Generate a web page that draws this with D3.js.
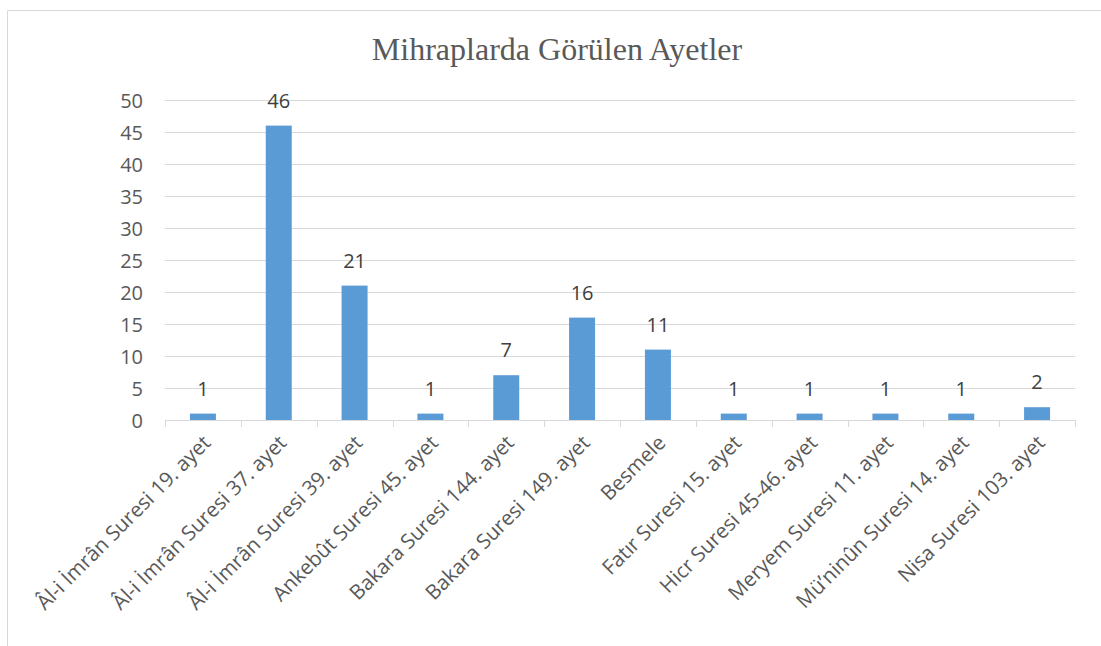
<!DOCTYPE html>
<html>
<head>
<meta charset="utf-8">
<script src="https://cdn.jsdelivr.net/npm/d3@7"></script>
<style>
  html, body { margin: 0; padding: 0; background: #fff; }
  svg { display: block; }
</style>
</head>
<body>
<svg id="chart" width="1101" height="646"></svg>
<script>
// Verse counts found on mihrabs
const categories = [
  "Âl-i İmrân Suresi 19. ayet",
  "Âl-i İmrân Suresi 37. ayet",
  "Âl-i İmrân Suresi 39. ayet",
  "Ankebût Suresi 45. ayet",
  "Bakara Suresi 144. ayet",
  "Bakara Suresi 149. ayet",
  "Besmele",
  "Fatır Suresi 15. ayet",
  "Hicr Suresi 45-46. ayet",
  "Meryem Suresi 11. ayet",
  "Mü’ninûn Suresi 14. ayet",
  "Nisa Suresi 103. ayet"
];
const counts = [1, 46, 21, 1, 7, 16, 11, 1, 1, 1, 1, 2];
const yTicks = [0, 5, 10, 15, 20, 25, 30, 35, 40, 45, 50];
const title = "Mihraplarda Görülen Ayetler";

const sans = "'Open Sans', 'Noto Sans', sans-serif";
const svg = d3.select("#chart");
const margin = { left: 165, right: 1075, top: 100, bottom: 420 };

// chart frame (only top and left edges fall inside the canvas)
svg.append("path")
  .attr("d", "M7.5,646 V10.5 H1101")
  .attr("fill", "none")
  .attr("stroke", "#d9d9d9")
  .attr("stroke-width", 1);

svg.append("text")
  .attr("x", 557)
  .attr("y", 60)
  .attr("text-anchor", "middle")
  .attr("font-family", "'Liberation Serif', 'Times New Roman', serif")
  .attr("font-size", 32)
  .attr("fill", "#595959")
  .text(title);

const x = d3.scaleBand()
  .domain(categories)
  .range([margin.left, margin.right])
  .paddingInner(0)
  .paddingOuter(0);

const y = d3.scaleLinear()
  .domain([0, 50])
  .range([margin.bottom, margin.top]);

// horizontal gridlines
svg.append("g")
  .selectAll("line")
  .data(yTicks.filter(d => d > 0))
  .join("line")
  .attr("x1", margin.left)
  .attr("x2", margin.right)
  .attr("y1", d => Math.round(y(d)) + 0.5)
  .attr("y2", d => Math.round(y(d)) + 0.5)
  .attr("stroke", "#d9d9d9")
  .attr("stroke-width", 1);

// y axis labels
const yAxis = d3.axisLeft(y).tickValues(yTicks).tickSize(0).tickPadding(0);
const gy = svg.append("g")
  .attr("transform", `translate(${margin.left - 22},0)`)
  .call(yAxis);
gy.select(".domain").remove();
gy.selectAll("text")
  .attr("font-family", sans)
  .attr("font-size", 20)
  .attr("fill", "#595959")
  .attr("dy", "0.35em");

// bars
const barW = 26;
svg.append("g")
  .selectAll("rect")
  .data(categories)
  .join("rect")
  .attr("x", d => x(d) + x.bandwidth() / 2 - barW / 2)
  .attr("width", barW)
  .attr("y", (d, i) => y(counts[i]))
  .attr("height", (d, i) => y(0) - y(counts[i]))
  .attr("fill", "#5b9bd5");

// x axis with boundary ticks
const gx = svg.append("g").attr("transform", `translate(0,${margin.bottom})`);
gx.append("line")
  .attr("x1", margin.left).attr("x2", margin.right)
  .attr("y1", 0.5).attr("y2", 0.5)
  .attr("stroke", "#d9d9d9").attr("stroke-width", 1);
const bounds = categories.map(c => x(c)).concat([margin.right]);
gx.selectAll("line.tick")
  .data(bounds)
  .join("line")
  .attr("class", "tick")
  .attr("x1", d => Math.round(d) + 0.5)
  .attr("x2", d => Math.round(d) + 0.5)
  .attr("y1", 0)
  .attr("y2", 7)
  .attr("stroke", "#d9d9d9")
  .attr("stroke-width", 1);

// category labels
gx.selectAll("text")
  .data(categories)
  .join("text")
  .attr("transform", d => `translate(${x(d) + x.bandwidth() / 2 + 9},${24}) rotate(-45)`)
  .attr("text-anchor", "end")
  .attr("font-family", sans)
  .attr("font-size", 20.5)
  .attr("fill", "#595959")
  .text(d => d);

// value labels
svg.append("g")
  .selectAll("text")
  .data(categories)
  .join("text")
  .attr("x", d => x(d) + x.bandwidth() / 2)
  .attr("y", (d, i) => y(counts[i]) - 18)
  .attr("text-anchor", "middle")
  .attr("font-family", sans)
  .attr("font-size", 20)
  .attr("fill", "#404040")
  .text((d, i) => counts[i]);
</script>
</body>
</html>
